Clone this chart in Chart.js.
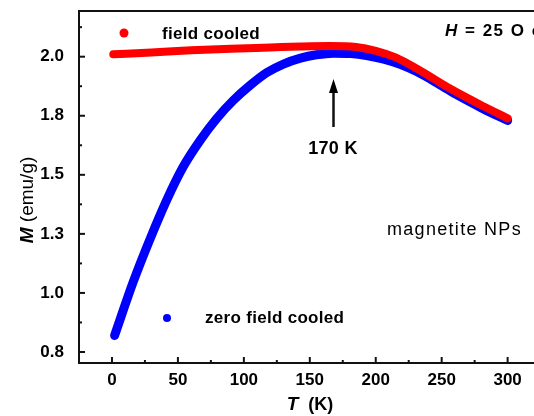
<!DOCTYPE html>
<html>
<head>
<meta charset="utf-8">
<script src="https://cdn.jsdelivr.net/npm/chart.js"></script>
<style>
  html, body { margin: 0; padding: 0; background: #fff; overflow: hidden; }
</style>
</head>
<body>
<canvas id="myChart" width="534" height="416"></canvas>
<script>
// axis ticks (y ticks sit at 0.775 + 0.25k, shown rounded to one decimal)
const xTicks = [0, 50, 100, 150, 200, 250, 300];
const yTicks = [0.775, 1.025, 1.275, 1.525, 1.775, 2.025];
const yTickLabels = ['0.8', '1.0', '1.3', '1.5', '1.8', '2.0'];

// field cooled
const fcTemps  = [1, 30, 60, 90, 120, 143, 165, 185, 200, 215, 231, 257, 282, 300];
const fcValues = [2.035, 2.043, 2.052, 2.059, 2.064, 2.068, 2.070, 2.066, 2.050, 2.022, 1.975, 1.888, 1.814, 1.764];

// zero field cooled
const zfcTemps  = [2, 16, 29, 41.5, 54, 67, 79.5, 92, 105, 117.5, 130, 143, 155, 168, 181, 193, 206, 219, 231, 244, 257, 270, 282, 300];
const zfcValues = [0.845, 1.07, 1.255, 1.418, 1.559, 1.672, 1.764, 1.840, 1.905, 1.958, 1.994, 2.019, 2.033, 2.040, 2.038, 2.030, 2.015, 1.992, 1.962, 1.922, 1.878, 1.838, 1.803, 1.755];

const toPoints = (xs, ys) => xs.map((t, i) => ({ x: t, y: ys[i] }));

Chart.defaults.font.family = 'Liberation Sans';
Chart.defaults.color = '#000';

function hLine(ctx, x1, x2, y) { ctx.beginPath(); ctx.moveTo(x1, y); ctx.lineTo(x2, y); ctx.stroke(); }
function vLine(ctx, x, y1, y2) { ctx.beginPath(); ctx.moveTo(x, y1); ctx.lineTo(x, y2); ctx.stroke(); }

// draws text pieces with different fonts one after another
function runs(ctx, parts, x, y, align) {
    let total = 0;
    parts.forEach(p => { ctx.font = p.font; total += ctx.measureText(p.text).width; });
    let cx = align === 'center' ? x - total / 2 : x;
    ctx.textAlign = 'left';
    parts.forEach(p => { ctx.font = p.font; ctx.fillText(p.text, cx, y); cx += ctx.measureText(p.text).width; });
}

const extras = {
    id: 'extras',
    afterDraw(chart) {
        const { ctx, chartArea: a, scales: { x, y } } = chart;
        ctx.save();
        ctx.strokeStyle = '#111';
        ctx.lineWidth = 2;
        hLine(ctx, a.left - 1, a.right, a.top);

        // inner ticks
        xTicks.forEach(v => vLine(ctx, x.getPixelForValue(v), a.bottom, a.bottom - 6));
        for (let i = 0; i < xTicks.length - 1; i++) {
            vLine(ctx, x.getPixelForValue((xTicks[i] + xTicks[i + 1]) / 2), a.bottom, a.bottom - 3);
        }
        yTicks.forEach(v => hLine(ctx, a.left, a.left + 6, y.getPixelForValue(v)));
        for (let i = 0; i < yTicks.length; i++) {
            hLine(ctx, a.left, a.left + 3, y.getPixelForValue(yTicks[i] + 0.125));
        }

        // legend markers
        ctx.fillStyle = '#ff0000';
        ctx.beginPath(); ctx.arc(124, 33, 4.5, 0, Math.PI * 2); ctx.fill();
        ctx.fillStyle = '#0000ff';
        ctx.beginPath(); ctx.arc(167, 318, 4, 0, Math.PI * 2); ctx.fill();

        ctx.fillStyle = '#000';
        ctx.textBaseline = 'middle';
        ctx.letterSpacing = '0.3px';
        runs(ctx, [{ text: 'field cooled', font: 'bold 17px "Liberation Sans"' }], 162, 34, 'left');
        runs(ctx, [{ text: 'zero field cooled', font: 'bold 17px "Liberation Sans"' }], 205, 318, 'left');
        runs(ctx, [{ text: '170 K', font: 'bold 18px "Liberation Sans"' }], 333, 149, 'center');
        ctx.letterSpacing = '1.3px';
        runs(ctx, [{ text: 'magnetite NPs', font: '18px "Liberation Sans"' }], 387, 230, 'left');
        ctx.letterSpacing = '1.5px';
        runs(ctx, [
            { text: 'H', font: 'italic bold 17px "Liberation Sans"' },
            { text: ' = 25 O e', font: 'bold 17px "Liberation Sans"' }
        ], 445, 31, 'left');
        ctx.letterSpacing = '0px';

        // arrow at 170 K
        ctx.lineWidth = 2.5;
        vLine(ctx, 333.5, 127, 88);
        ctx.beginPath();
        ctx.moveTo(333.5, 79); ctx.lineTo(338, 93); ctx.lineTo(329, 93); ctx.closePath(); ctx.fill();

        // axis titles
        runs(ctx, [
            { text: 'T', font: 'italic bold 19px "Liberation Sans"' },
            { text: '  (K)', font: 'bold 18px "Liberation Sans"' }
        ], 310, 405, 'center');
        ctx.translate(28, 200);
        ctx.rotate(-Math.PI / 2);
        runs(ctx, [
            { text: 'M', font: 'italic bold 19px "Liberation Sans"' },
            { text: ' (emu/g)', font: '19px "Liberation Sans"' }
        ], 0, 0, 'center');
        ctx.restore();
    }
};

const ctx = document.getElementById('myChart');
const chart = new Chart(ctx, {
    type: 'line',
    data: {
        datasets: [{
            label: 'field cooled',
            data: toPoints(fcTemps, fcValues),
            borderColor: '#ff0000',
            borderWidth: 8,
            borderCapStyle: 'round',
            pointRadius: 0,
            cubicInterpolationMode: 'monotone',
            order: 0
        }, {
            label: 'zero field cooled',
            data: toPoints(zfcTemps, zfcValues),
            borderColor: '#0000ff',
            borderWidth: 9,
            borderCapStyle: 'round',
            pointRadius: 0,
            cubicInterpolationMode: 'monotone',
            order: 1
        }]
    },
    options: {
        responsive: false,
        devicePixelRatio: 1,
        animation: false,
        layout: { padding: { top: 11, left: 0, right: 0, bottom: 0 } },
        plugins: {
            legend: { display: false },
            tooltip: { enabled: false }
        },
        scales: {
            x: {
                type: 'linear',
                min: -25,
                max: 320,
                afterBuildTicks: (scale) => { scale.ticks = xTicks.map(v => ({ value: v })); },
                afterFit: (scale) => { scale.height = 53; scale.paddingLeft = 0; scale.paddingRight = 0; },
                grid: { display: false, drawTicks: false },
                border: { display: true, color: '#111', width: 2 },
                ticks: { padding: 7, font: { size: 17, weight: 'bold' }, color: '#000' }
            },
            y: {
                type: 'linear',
                min: 0.7284,
                max: 2.2184,
                afterBuildTicks: (scale) => { scale.ticks = yTicks.map(v => ({ value: v })); },
                afterFit: (scale) => { scale.width = 79; scale.paddingTop = 0; scale.paddingBottom = 0; },
                grid: { display: false, drawTicks: false },
                border: { display: true, color: '#111', width: 2 },
                ticks: {
                    padding: 15,
                    font: { size: 17, weight: 'bold' },
                    color: '#000',
                    callback: (value, index) => yTickLabels[index]
                }
            }
        }
    },
    plugins: [extras]
});
</script>
</body>
</html>
